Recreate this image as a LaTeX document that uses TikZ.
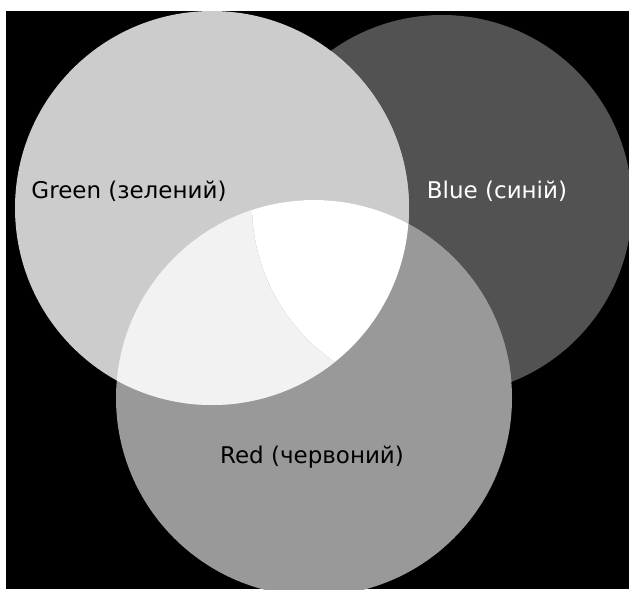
\documentclass[tikz,border=0pt]{standalone}
\usepackage{fontspec}
\setmainfont{DejaVu Sans}
\definecolor{gcol}{gray}{0.80}
\definecolor{bcol}{gray}{0.32}
\definecolor{rcol}{gray}{0.60}
\definecolor{grcol}{gray}{0.95}
\definecolor{gbcol}{gray}{0.80}
\definecolor{rbcol}{gray}{0.60}
\begin{document}
\begin{tikzpicture}[x=1pt,y=-1pt,
  lbl/.style={font=\fontsize{23}{26}\selectfont, inner sep=0pt}]
\useasboundingbox (0,0) rectangle (629,589);
\fill[white] (0,0) rectangle (629,589);
\fill[black] (6,11) rectangle (629,589);
\coordinate (gc) at (212,208);
\coordinate (bc) at (442,205);
\coordinate (rc) at (314,398);
\begin{scope}
  \clip (6,11) rectangle (629,589);
  \fill[bcol] (bc) circle[radius=190];
  \fill[rcol] (rc) circle[radius=198];
  \fill[gcol] (gc) circle[radius=197];
  \begin{scope}
    \clip (gc) circle[radius=197];
    \fill[gbcol] (bc) circle[radius=190];
    \fill[grcol] (rc) circle[radius=198];
  \end{scope}
  \begin{scope}
    \clip (rc) circle[radius=198];
    \clip (bc) circle[radius=190];
    \fill[rbcol] (0,0) rectangle (629,589);
    \clip (gc) circle[radius=197];
    \fill[white] (0,0) rectangle (629,589);
  \end{scope}
\end{scope}
\node[lbl, text=black] (green) at (129,191) {Green (зелений)};
\node[lbl, text=white] (blue) at (497,191) {Blue (синій)};
\node[lbl, text=black] (red) at (312,457) {Red (червоний)};
\end{tikzpicture}
\end{document}
